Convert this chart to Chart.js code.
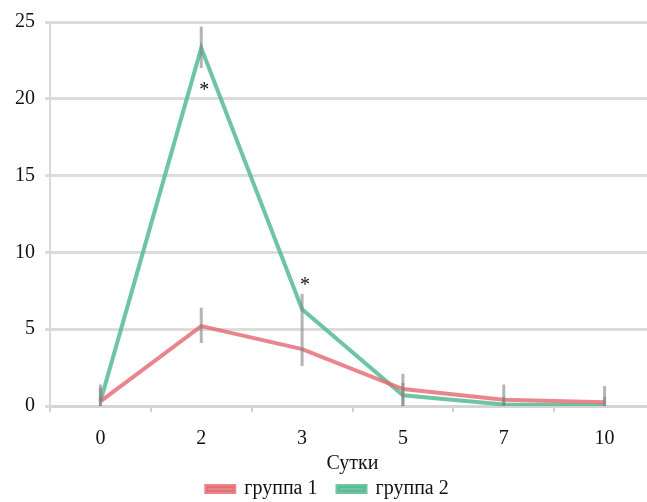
<!DOCTYPE html>
<html>
<head>
<meta charset="utf-8">
<script src="https://cdn.jsdelivr.net/npm/chart.js@4"></script>
<style>
  html, body { margin: 0; padding: 0; background: #fff; overflow: hidden; }
  #wrap { width: 647px; height: 502px; overflow: hidden; }
  #warm { font-family: 'Liberation Serif'; position: absolute; left: -999px; }
</style>
</head>
<body>
<span id="warm">группа 0123456789 *</span>
<div id="wrap"><canvas id="chart" width="660" height="502"></canvas></div>
<script>
// days
const days = ['0', '2', '3', '5', '7', '10'];

const group1 = [0.3, 5.2, 3.7, 1.1, 0.4, 0.25];
const group2 = [0.3, 23.3, 6.3, 0.7, 0.1, 0.05];

// error bar ends
const group1Low = [0, 4.1, 2.6, 0, 0, 0];
const group1High = [1.4, 6.4, 5.0, 2.1, 1.4, 1.3];
const group2Low = [0, 22.0, 5.0, 0, 0, 0];
const group2High = [1.2, 24.7, 7.3, 1.5, 0.6, 0.6];

// significance marks
const sigMarks = ['', '*', '*', '', '', ''];
const sigY = [null, 20.8, 8.1, null, null, null];

const yTicks = [0, 5, 10, 15, 20, 25];

const serif = "'Liberation Serif', 'Times New Roman', serif";

const errorBars = {
    id: 'errorBars',
    afterDatasetsDraw(chart) {
        const ctx = chart.ctx;
        const x = chart.scales.x;
        const y = chart.scales.y;
        ctx.save();
        ctx.strokeStyle = 'rgba(130,130,130,0.6)';
        ctx.lineWidth = 3;
        const draw = (low, high) => {
            low.forEach((lo, i) => {
                const px = x.getPixelForValue(i);
                ctx.beginPath();
                ctx.moveTo(px, y.getPixelForValue(lo));
                ctx.lineTo(px, y.getPixelForValue(high[i]));
                ctx.stroke();
            });
        };
        draw(group1Low, group1High);
        draw(group2Low, group2High);

        ctx.fillStyle = '#111';
        ctx.font = '20px ' + serif;
        ctx.textAlign = 'center';
        ctx.textBaseline = 'middle';
        sigMarks.forEach((m, i) => {
            if (!m) return;
            ctx.fillText(m, x.getPixelForValue(i) + 3, y.getPixelForValue(sigY[i]) + 4);
        });
        ctx.restore();
    }
};

function draw() {
    new Chart(document.getElementById('chart'), {
        type: 'line',
        data: {
            labels: days,
            datasets: [{
                label: 'группа 1',
                data: group1,
                borderColor: 'rgba(228,104,112,0.8)',
                backgroundColor: 'rgba(228,104,112,0.8)',
                borderWidth: 4,
                pointRadius: 0,
                tension: 0
            }, {
                label: 'группа 2',
                data: group2,
                borderColor: 'rgba(86,186,146,0.85)',
                backgroundColor: 'rgba(86,186,146,0.85)',
                borderWidth: 4,
                pointRadius: 0,
                tension: 0
            }]
        },
        options: {
            responsive: false,
            animation: false,
            layout: { padding: { top: 14, left: 0, right: 5, bottom: -7 } },
            plugins: {
                legend: {
                    position: 'bottom',
                    labels: {
                        font: { family: serif, size: 20 },
                        color: '#111',
                        boxWidth: 28,
                        boxHeight: 6,
                        padding: 20
                    }
                },
                tooltip: { enabled: false }
            },
            scales: {
                x: {
                    offset: true,
                    grid: {
                        offset: true,
                        drawOnChartArea: false,
                        drawTicks: true,
                        tickLength: 6,
                        color: '#cfcfcf',
                        lineWidth: 2
                    },
                    border: { color: '#d4d4d4', width: 3 },
                    ticks: { font: { family: serif, size: 20 }, color: '#111', padding: 15 },
                    title: {
                        display: true,
                        text: 'Сутки',
                        font: { family: serif, size: 20 },
                        color: '#111',
                        padding: { top: -14, bottom: -17 }
                    }
                },
                y: {
                    min: 0,
                    max: 25,
                    afterFit(scale) { scale.width = 50; },
                    afterBuildTicks(scale) { scale.ticks = yTicks.map(v => ({ value: v })); },
                    grid: { color: '#dcdcdc', lineWidth: 3, tickLength: 5 },
                    border: { color: '#d9d9d9', width: 2 },
                    ticks: { font: { family: serif, size: 20 }, color: '#111', padding: 10 }
                }
            }
        },
        plugins: [errorBars]
    });
}

if (document.fonts && document.fonts.load) {
    document.fonts.load("20px 'Liberation Serif'").then(draw, draw);
} else {
    draw();
}
</script>
</body>
</html>
